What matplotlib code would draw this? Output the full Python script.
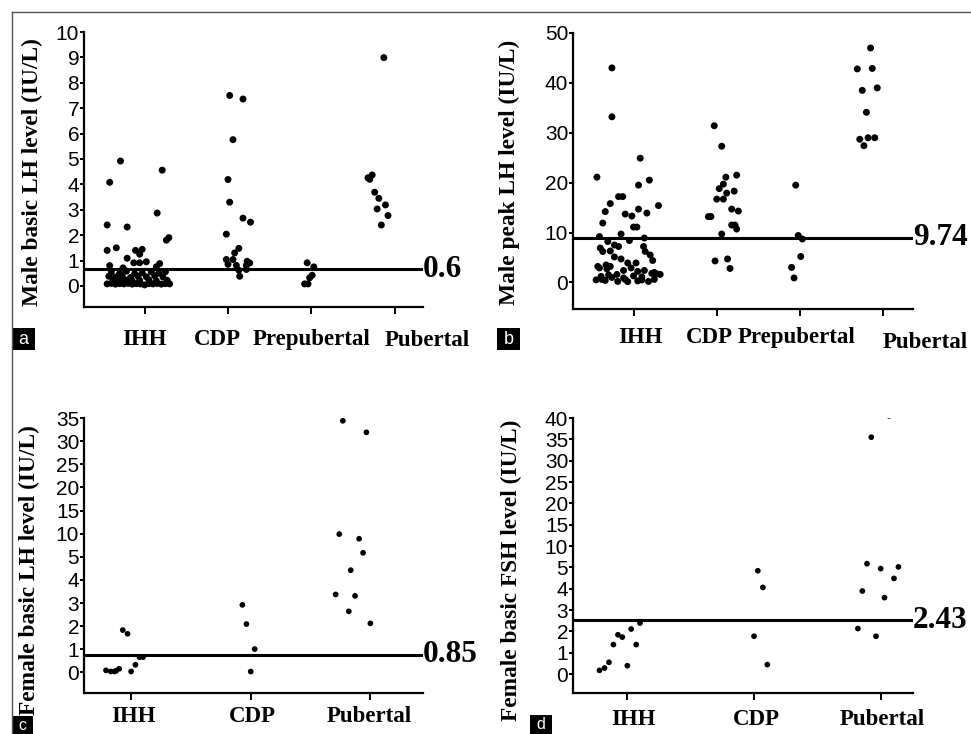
import numpy as np
import matplotlib
matplotlib.use("Agg")
import matplotlib.pyplot as plt
from matplotlib.lines import Line2D
from matplotlib.patches import Rectangle
import matplotlib.transforms as mtrans

# ---------------- data ----------------
male_cats = ["IHH", "CDP", "Prepubertal", "Pubertal"]
female_cats = ["IHH", "CDP", "Pubertal"]

# Panel a: male basic LH (IU/L); x = jitter offset from category centre
a_ihh_x = [-0.29, 0.21, -0.42, 0.15, -0.45, -0.21, 0.29, 0.26, -0.45, -0.34, -0.11, -0.03,
           -0.06, -0.21, -0.13, -0.06, 0.02, -0.42, -0.26, 0.18, 0.14,
           -0.40, -0.30, -0.22, -0.12, -0.03, 0.08, 0.17, 0.25,
           -0.43, -0.35, -0.27, -0.17, -0.08, 0.02, 0.12, 0.22,
           -0.38, -0.31, -0.24, -0.15, -0.06, 0.05, 0.14, 0.27,
           -0.45, -0.40, -0.35, -0.30, -0.25, -0.20, -0.15, -0.10, -0.05, 0.00, 0.05, 0.10,
           0.15, 0.20, 0.25, 0.30]
a_ihh_y = [4.92, 4.56, 4.08, 2.87, 2.40, 2.32, 1.90, 1.80, 1.40, 1.50, 1.40, 1.44,
           1.25, 1.09, 0.91, 0.91, 0.95, 0.80, 0.71, 0.88, 0.75,
           0.55, 0.50, 0.58, 0.48, 0.52, 0.55, 0.50, 0.56,
           0.38, 0.35, 0.40, 0.33, 0.38, 0.36, 0.40, 0.35,
           0.22, 0.20, 0.25, 0.20, 0.22, 0.24, 0.20, 0.22,
           0.08, 0.10, 0.07, 0.09, 0.08, 0.10, 0.07, 0.09, 0.08, 0.04, 0.09, 0.08,
           0.10, 0.07, 0.09, 0.08]
a_cdp_x = [0.02, 0.18, 0.06, 0.00, 0.02, 0.18, 0.27, -0.02, 0.13, 0.08, -0.02, 0.06,
           0.23, 0.00, 0.10, 0.22, 0.22, 0.13, 0.14, 0.26]
a_cdp_y = [7.50, 7.36, 5.76, 4.19, 3.30, 2.67, 2.51, 2.04, 1.48, 1.30, 1.04, 1.04,
           0.97, 0.85, 0.81, 0.81, 0.65, 0.62, 0.38, 0.90]
a_pre_x = [-0.05, 0.03, 0.01, -0.02, -0.08, -0.04]
a_pre_y = [0.91, 0.75, 0.42, 0.32, 0.08, 0.08]
a_pub_x = [-0.13, -0.27, -0.32, -0.30, -0.24, -0.19, -0.11, -0.21, -0.08, -0.16]
a_pub_y = [8.99, 4.37, 4.26, 4.20, 3.69, 3.45, 3.19, 3.03, 2.77, 2.40]

# Panel b: male peak LH (IU/L)
b_ihh_x = [-0.26, -0.26, 0.08, -0.44, 0.19, 0.06, -0.18, -0.13, -0.28, 0.30, -0.34, 0.06,
           0.16, -0.10, -0.02, -0.37, 0.00, 0.04, -0.41, -0.15, 0.13, -0.31, -0.05, -0.40,
           -0.37, -0.28, -0.23, -0.18, 0.12, 0.14, 0.20, 0.23, -0.23, -0.15, -0.07, 0.03,
           -0.43, -0.33, -0.28, -0.41, -0.32, -0.12, -0.03, 0.05, 0.13, 0.25, -0.39, -0.26,
           -0.12, 0.00, 0.10, 0.28, -0.45, -0.34, -0.19, -0.07, 0.05, 0.18, -0.30, -0.20,
           0.22, 0.32, -0.38, 0.10, 0.25, -0.10]
b_ihh_y = [43.0, 33.2, 24.9, 21.1, 20.5, 19.5, 17.2, 17.2, 15.8, 15.4, 14.2, 14.7,
           13.9, 13.7, 13.3, 11.9, 11.1, 11.1, 9.2, 9.7, 8.9, 8.2, 8.4, 6.9,
           6.2, 6.3, 7.5, 7.2, 7.2, 6.2, 5.5, 4.4, 5.1, 4.7, 3.9, 3.9,
           3.2, 3.5, 3.2, 2.9, 2.7, 2.4, 2.9, 2.2, 2.4, 2.0, 1.2, 1.0,
           0.9, 1.3, 1.1, 1.7, 0.5, 0.4, 0.2, 0.15, 0.3, 0.2, 1.5, 1.6,
           1.8, 1.6, 0.6, 0.5, 0.6, 0.6]
b_cdp_x = [-0.03, 0.06, 0.11, 0.24, 0.08, 0.03, 0.12, 0.21, 0.00, 0.08, 0.18, 0.26,
           -0.10, -0.07, 0.18, 0.22, 0.24, 0.06, -0.02, 0.13, 0.16]
b_cdp_y = [31.4, 27.3, 21.1, 21.5, 19.7, 18.8, 17.9, 18.3, 16.7, 16.7, 14.7, 14.3,
           13.2, 13.2, 11.5, 11.5, 10.7, 9.7, 4.3, 4.7, 2.8]
b_pre_x = [-0.05, -0.02, 0.03, 0.01, -0.10, -0.07]
b_pre_y = [19.5, 9.4, 8.7, 5.2, 3.0, 0.9]
b_pub_x = [-0.15, -0.31, -0.13, -0.25, -0.07, -0.20, -0.28, -0.18, -0.10, -0.23]
b_pub_y = [47.0, 42.8, 42.9, 38.5, 39.0, 34.1, 28.7, 29.0, 29.0, 27.4]

# Panel c: female basic LH (IU/L)
c_ihh_x = [-0.21, -0.17, -0.14, -0.125, -0.10, -0.07, -0.03, 0.00, 0.036, 0.07, 0.10]
c_ihh_y = [0.09, 0.04, 0.04, 0.07, 0.16, 1.83, 1.67, 0.04, 0.33, 0.66, 0.66]
c_cdp_x = [-0.07, -0.036, 0.033, 0.00]
c_cdp_y = [2.92, 2.09, 1.01, 0.04]
c_pub_x = [-0.23, -0.033, -0.26, -0.094, -0.061, -0.164, -0.29, -0.128, -0.18, 0.00]
c_pub_y = [34.4, 31.9, 9.9, 8.9, 5.86, 4.42, 3.37, 3.31, 2.64, 2.12]

# Panel d: female basic FSH (IU/L)
d_ihh_x = [-0.22, -0.18, -0.145, -0.11, -0.074, -0.04, 0.00, 0.03, 0.07, 0.10]
d_ihh_y = [0.17, 0.28, 0.55, 1.38, 1.84, 1.73, 0.39, 2.11, 1.38, 2.39]
d_cdp_x = [0.03, 0.07, 0.00, 0.105]
d_cdp_y = [4.84, 4.06, 1.77, 0.44]
d_pub_x = [-0.074, 0.066, -0.108, 0.00, 0.14, 0.105, -0.145, 0.03, -0.18, -0.037]
d_pub_y = [35.5, 40.5, 5.86, 4.94, 5.10, 4.48, 3.89, 3.58, 2.13, 1.77]

# cut-off lines (drawn position) and their printed labels
cut_values = [0.66, 9.0, 0.76, 2.52]
cut_labels = ["0.6", "9.74", "0.85", "2.43"]

ylabels = ["Male basic LH level (IU/L)", "Male peak LH level (IU/L)",
           "Female basic LH level (IU/L)", "Female basic FSH level (IU/L)"]
panel_letters = ["a", "b", "c", "d"]

a_yticks = [0, 1, 2, 3, 4, 5, 6, 7, 8, 9, 10]
b_yticks = [0, 10, 20, 30, 40, 50]
c_yticks = [0, 1, 2, 3, 4, 5, 10, 15, 20, 25, 30, 35]
d_yticks = [0, 1, 2, 3, 4, 5, 10, 15, 20, 25, 30, 35, 40]

# ---------------- figure ----------------
W, H = 971, 734
fig = plt.figure(figsize=(W / 100, H / 100), dpi=100)
fig.patch.set_facecolor("white")

SERIF = ["Liberation Serif", "DejaVu Serif"]
SANS = ["Liberation Sans", "DejaVu Sans"]


def px_rect(l, t, r, b):
    return [l / W, 1 - b / H, (r - l) / W, (b - t) / H]


def fwd(y):
    y = np.asarray(y, dtype=float)
    return np.where(y <= 5, y, 5 + (y - 5) / 5.0)


def inv(t):
    t = np.asarray(t, dtype=float)
    return np.where(t <= 5, t, 5 + (t - 5) * 5.0)


panels = [
    dict(rect=px_rect(84, 32, 423, 307), cats=male_cats,
         groups=[(a_ihh_x, a_ihh_y), (a_cdp_x, a_cdp_y), (a_pre_x, a_pre_y), (a_pub_x, a_pub_y)],
         xlim=(0.272, 4.34), ylim=(-0.83, 10), yticks=a_yticks, broken=False, s=25,
         lab_dx=[0, -11, 0, 33], lab_dy=[22, 22, 22, 23], ylab_xy=(-0.153, 0.492)),
    dict(rect=px_rect(573, 33, 913, 309), cats=male_cats,
         groups=[(b_ihh_x, b_ihh_y), (b_cdp_x, b_cdp_y), (b_pre_x, b_pre_y), (b_pub_x, b_pub_y)],
         xlim=(0.272, 4.36), ylim=(-5.33, 50), yticks=b_yticks, broken=False, s=25,
         lab_dx=[7, -7, -3, 42], lab_dy=[18, 18, 18, 23], ylab_xy=(-0.186, 0.495)),
    dict(rect=px_rect(84, 418, 423, 693), cats=female_cats,
         groups=[(c_ihh_x, c_ihh_y), (c_cdp_x, c_cdp_y), (c_pub_x, c_pub_y)],
         xlim=(0.606, 3.44), ylim=(-0.89, 35), yticks=c_yticks, broken=True, s=17,
         lab_dx=[2, 2, -1], lab_dy=[13, 13, 13], ylab_xy=(-0.160, 0.447)),
    dict(rect=px_rect(573, 418, 913, 693), cats=female_cats,
         groups=[(d_ihh_x, d_ihh_y), (d_cdp_x, d_cdp_y), (d_pub_x, d_pub_y)],
         xlim=(0.571, 3.255), ylim=(-0.89, 40), yticks=d_yticks, broken=True, s=17,
         lab_dx=[6, 2, 2], lab_dy=[16, 16, 16], ylab_xy=(-0.180, 0.446)),
]

for i, p in enumerate(panels):
    ax = fig.add_axes(p["rect"])
    if p["broken"]:
        ax.set_yscale("function", functions=(fwd, inv))
    for k, (xo, yv) in enumerate(p["groups"]):
        xs = (k + 1) + np.asarray(xo)
        ax.scatter(xs, yv, s=p["s"], color="black", edgecolors="none", zorder=3)
    ax.set_xlim(*p["xlim"])
    ax.set_ylim(*p["ylim"])
    for sp in ["top", "right"]:
        ax.spines[sp].set_visible(False)
    for sp in ["left", "bottom"]:
        ax.spines[sp].set_linewidth(1.6)
    ax.spines["left"].set_bounds(p["ylim"][0], p["ylim"][1])
    ax.set_yticks(p["yticks"])
    ax.set_yticklabels([str(v) for v in p["yticks"]], fontfamily=SANS, fontsize=15)
    ax.tick_params(axis="y", direction="out", length=3.2, width=1.4, pad=0.3, colors="black")
    ax.set_xticks(range(1, len(p["cats"]) + 1))
    ax.set_xticklabels([""] * len(p["cats"]))
    ax.tick_params(axis="x", direction="out", length=5, width=1.4, pad=0)
    for k, lab in enumerate(p["cats"]):
        ax.annotate(lab, xy=(k + 1, 0), xycoords=("data", "axes fraction"),
                    xytext=(p["lab_dx"][k], -p["lab_dy"][k]), textcoords="offset pixels",
                    ha="center", va="top", fontfamily=SERIF, fontweight="bold",
                    fontsize=16.5, annotation_clip=False)
    # cut-off line
    ax.axhline(cut_values[i], xmin=0, xmax=1, color="black", linewidth=2.2, zorder=2)
    ax.text(1.0, cut_values[i], cut_labels[i],
            transform=mtrans.blended_transform_factory(ax.transAxes, ax.transData),
            ha="left", va="center", fontfamily=SERIF, fontweight="bold", fontsize=22.5,
            clip_on=False)
    ax.set_ylabel(ylabels[i], fontfamily=SERIF, fontweight="bold", fontsize=16.8,
                  va="center", ha="center")
    ax.yaxis.set_label_coords(*p["ylab_xy"])

# panel letter boxes (pixel boxes: l, t, r, b) and letter centres
letter_boxes = [(12, 328, 35, 350), (497, 328, 520, 350), (12, 716, 33, 734), (530, 715, 552, 734)]
for letter, (l, t, r, b) in zip(panel_letters, letter_boxes):
    fig.add_artist(Rectangle((l / W, 1 - b / H), (r - l) / W, (b - t) / H,
                             transform=fig.transFigure, facecolor="black", edgecolor="none"))
    fig.text((l + r) / 2 / W, 1 - (t + b) / 2 / H, letter, color="white",
             ha="center", va="center", fontfamily=SANS,
             fontsize=13 if b - t > 20 else 11.5)

# outer frame (top and left edges)
fig.add_artist(Line2D([12 / W, 1.0], [1 - 12 / H, 1 - 12 / H], transform=fig.transFigure,
                      color="#555555", linewidth=1.0))
fig.add_artist(Line2D([12 / W, 12 / W], [1 - 12 / H, 0.0], transform=fig.transFigure,
                      color="#555555", linewidth=1.0))

fig.savefig("out.png", dpi=100, facecolor="white")
